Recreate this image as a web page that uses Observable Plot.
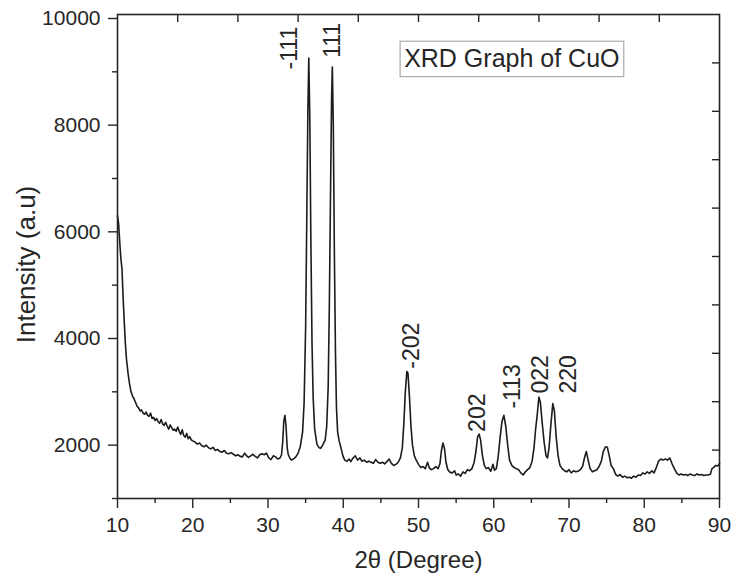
<!DOCTYPE html>
<html>
<head>
<meta charset="utf-8">
<script src="https://cdn.jsdelivr.net/npm/d3@7"></script>
<script src="https://cdn.jsdelivr.net/npm/@observablehq/plot@0.6"></script>
<style>
  html, body { margin: 0; padding: 0; background: #fff; }
  #chart { width: 731px; height: 576px; }
</style>
</head>
<body>
<div id="chart"></div>
<script>
// ---- data ----
const twoTheta = [
  10.0,10.15,10.3,10.45,10.6,10.75,10.9,11.05,11.2,11.4,11.6,11.8,12.0,12.2,12.4,12.6,12.8,13.0,13.2,13.4,13.6,13.8,
  14.0,14.2,14.4,14.6,14.8,15.0,15.2,15.4,15.6,15.8,16.0,16.2,16.4,16.6,16.8,17.0,17.2,17.4,17.6,17.8,
  18.0,18.2,18.4,18.6,18.8,19.0,19.2,19.4,19.6,19.8,20.0,20.3,20.6,20.9,21.2,21.5,21.8,22.1,22.4,22.7,
  23.0,23.3,23.6,23.9,24.2,24.5,24.8,25.1,25.4,25.7,26.0,26.3,26.6,26.9,27.1,27.4,27.7,28.0,28.3,28.6,
  28.9,29.2,29.5,29.8,30.1,30.4,30.7,31.0,31.3,31.6,31.8,31.95,32.1,32.25,32.4,32.55,32.7,32.9,33.1,33.4,
  33.7,34.0,34.3,34.6,34.8,35.0,35.15,35.3,35.42,35.55,35.7,35.85,36.0,36.2,36.5,36.8,37.0,37.3,37.6,37.8,
  38.0,38.15,38.3,38.45,38.55,38.68,38.82,38.97,39.1,39.25,39.45,39.7,39.95,40.2,40.5,40.8,41.0,41.3,41.6,
  41.9,42.2,42.5,42.8,43.1,43.4,43.7,44.0,44.3,44.6,44.9,45.2,45.5,45.8,46.1,46.4,46.7,47.0,47.3,47.6,
  47.85,48.05,48.25,48.45,48.6,48.8,49.0,49.2,49.45,49.7,50.0,50.3,50.6,50.9,51.2,51.45,51.7,52.0,52.3,
  52.6,52.85,53.05,53.25,53.45,53.65,53.9,54.2,54.5,54.8,55.0,55.3,55.6,55.9,56.2,56.5,56.8,57.1,57.4,
  57.65,57.85,58.05,58.25,58.5,58.75,59.0,59.3,59.6,59.9,60.1,60.35,60.6,60.85,61.1,61.35,61.6,61.85,62.1,
  62.4,62.7,63.0,63.3,63.6,63.9,64.2,64.5,64.8,65.1,65.35,65.55,65.8,66.0,66.2,66.45,66.7,66.95,67.15,
  67.35,67.6,67.85,68.05,68.3,68.55,68.8,69.1,69.4,69.7,70.0,70.3,70.6,70.9,71.2,71.5,71.8,72.05,72.3,
  72.55,72.8,73.1,73.4,73.7,74.0,74.3,74.55,74.85,75.1,75.35,75.6,75.9,76.2,76.5,76.8,77.1,77.4,77.7,
  78.0,78.3,78.6,78.9,79.2,79.5,79.8,80.1,80.4,80.7,81.0,81.3,81.6,81.9,82.2,82.5,82.8,83.1,83.4,83.7,
  84.0,84.3,84.6,84.9,85.2,85.5,85.8,86.1,86.4,86.7,87.0,87.3,87.6,87.9,88.2,88.5,88.8,89.0,89.2,89.5,89.8,90.0
];
const intensity = [
  6300,6150,5800,5500,5300,4750,4300,3900,3600,3350,3150,3000,2920,2870,2800,2730,2700,2640,2660,2600,2580,2620,
  2560,2540,2600,2500,2520,2460,2500,2440,2410,2480,2400,2370,2430,2360,2300,2380,2330,2280,2300,2260,
  2340,2260,2200,2290,2180,2150,2220,2120,2160,2100,2080,2060,2020,2040,1990,1970,2000,1950,1930,1960,
  1900,1920,1880,1870,1900,1850,1840,1860,1830,1800,1820,1790,1780,1850,1810,1770,1800,1830,1790,1760,
  1820,1840,1820,1850,1760,1730,1800,1780,1740,1760,1820,2050,2450,2560,2350,1950,1820,1760,1720,1740,
  1780,1850,1980,2250,2800,4200,6200,8300,9260,8200,5800,3900,2900,2300,2020,1950,1940,2010,2100,2350,
  3100,4600,6600,8500,9090,8000,5600,3700,2700,2250,2080,1950,1800,1720,1700,1740,1690,1760,1800,
  1720,1760,1700,1720,1680,1700,1680,1660,1730,1680,1660,1680,1650,1690,1740,1660,1620,1640,1680,1760,
  1950,2400,3000,3380,3350,2900,2350,2000,1800,1720,1640,1580,1600,1560,1680,1570,1540,1560,1600,
  1560,1650,1900,2040,1940,1680,1540,1490,1480,1520,1440,1460,1420,1500,1470,1540,1520,1560,1680,
  1900,2150,2210,2100,1800,1620,1560,1580,1510,1640,1530,1560,1800,2150,2450,2560,2350,2000,1720,
  1620,1580,1560,1540,1480,1440,1500,1540,1580,1700,1950,2280,2600,2900,2800,2400,2050,1800,1760,
  1950,2400,2780,2650,2150,1800,1620,1560,1520,1500,1540,1480,1520,1500,1510,1540,1600,1760,1880,
  1720,1560,1500,1520,1540,1600,1700,1880,1970,1960,1800,1620,1560,1450,1420,1450,1400,1420,1390,
  1400,1380,1420,1400,1440,1430,1480,1460,1500,1470,1520,1480,1580,1700,1740,1720,1740,1720,1760,1650,
  1560,1480,1440,1460,1440,1450,1430,1460,1440,1430,1460,1440,1450,1430,1440,1440,1460,1560,1580,1620,1610,1660
];
const xTicks = [10, 20, 30, 40, 50, 60, 70, 80, 90];
const xMinorTicks = [15, 25, 35, 45, 55, 65, 75, 85];
const yTicks = [2000, 4000, 6000, 8000, 10000];
const yMinorTicks = [1000, 3000, 5000, 7000, 9000];
const topTicks = [18, 26, 34, 42, 50, 58, 66, 74, 82];
const rightTicks = [1907.5, 2815, 3722.5, 4630, 5537.5, 6445, 7352.5, 8260, 9167.5];
const peakLabels = ["-111", "111", "-202", "202", "-113", "022", "220"];
const peakLabelX = [32.86, 38.64, 49.07, 57.9, 62.56, 66.2, 69.98];
const peakLabelY = [9046, 9263, 3434, 2249, 2686, 2967, 2967];
const annotationText = "XRD Graph of CuO";
const xLabel = "2θ (Degree)";
const yLabel = "Intensity (a.u)";

const pattern = twoTheta.map((t, i) => ({t, v: intensity[i]}));
const labels = peakLabels.map((s, i) => ({s, x: peakLabelX[i], y: peakLabelY[i]}));

const FONT = "'Liberation Sans', Arial, Helvetica, sans-serif";
const INK = "#262626";
const blank = () => "";
const plain = d => String(d);

const chart = Plot.plot({
  width: 731,
  height: 576,
  marginLeft: 117,
  marginRight: 12,
  marginTop: 14,
  marginBottom: 78,
  x: {domain: [10, 90], axis: null},
  y: {domain: [1000, 10075], axis: null},
  style: {fontFamily: FONT, color: INK, background: "white", overflow: "visible"},
  marks: [
    Plot.rect([annotationText], {x1: 47.62, x2: 77.35, y1: 8900, y2: 9565, fill: "white", stroke: "#9a9a9a", strokeWidth: 1}),
    Plot.text([annotationText], {x: 62.4, y: 9232, text: d => d, fontSize: 25, fill: INK}),
    Plot.line(pattern, {x: "t", y: "v", stroke: "#1c1c1c", strokeWidth: 1.6, curve: "linear"}),
    Plot.text(labels, {x: "x", y: "y", text: "s", rotate: -90, textAnchor: "start", fontSize: 23, fill: INK}),
    Plot.axisX({ticks: xTicks, tickSize: 10, tickPadding: 9, fontSize: 21, tickFormat: plain, label: null, strokeWidth: 1.4, fill: INK}),
    Plot.axisX({ticks: xMinorTicks, tickSize: 5, tickFormat: blank, label: null, strokeWidth: 1.4}),
    Plot.axisY({ticks: yTicks, tickSize: 9, tickPadding: 8, fontSize: 21, tickFormat: plain, label: null, strokeWidth: 1.4, fill: INK}),
    Plot.axisY({ticks: yMinorTicks, tickSize: 5, tickFormat: blank, label: null, strokeWidth: 1.4}),
    Plot.axisX({anchor: "top", ticks: topTicks, tickSize: -7, tickFormat: blank, label: null, strokeWidth: 1.4}),
    Plot.axisY({anchor: "right", ticks: rightTicks, tickSize: -8, tickFormat: blank, label: null, strokeWidth: 1.4}),
    Plot.frame({stroke: INK, strokeWidth: 1.6}),
    Plot.text([xLabel], {frameAnchor: "bottom", dy: 62, lineAnchor: "middle", textAnchor: "middle", text: d => d, fontSize: 24, fill: INK}),
    Plot.text([yLabel], {frameAnchor: "left", dx: -91, dy: 8, rotate: -90, textAnchor: "middle", lineAnchor: "middle", text: d => d, fontSize: 26, fill: INK})
  ]
});
document.getElementById("chart").appendChild(chart);
</script>
</body>
</html>
